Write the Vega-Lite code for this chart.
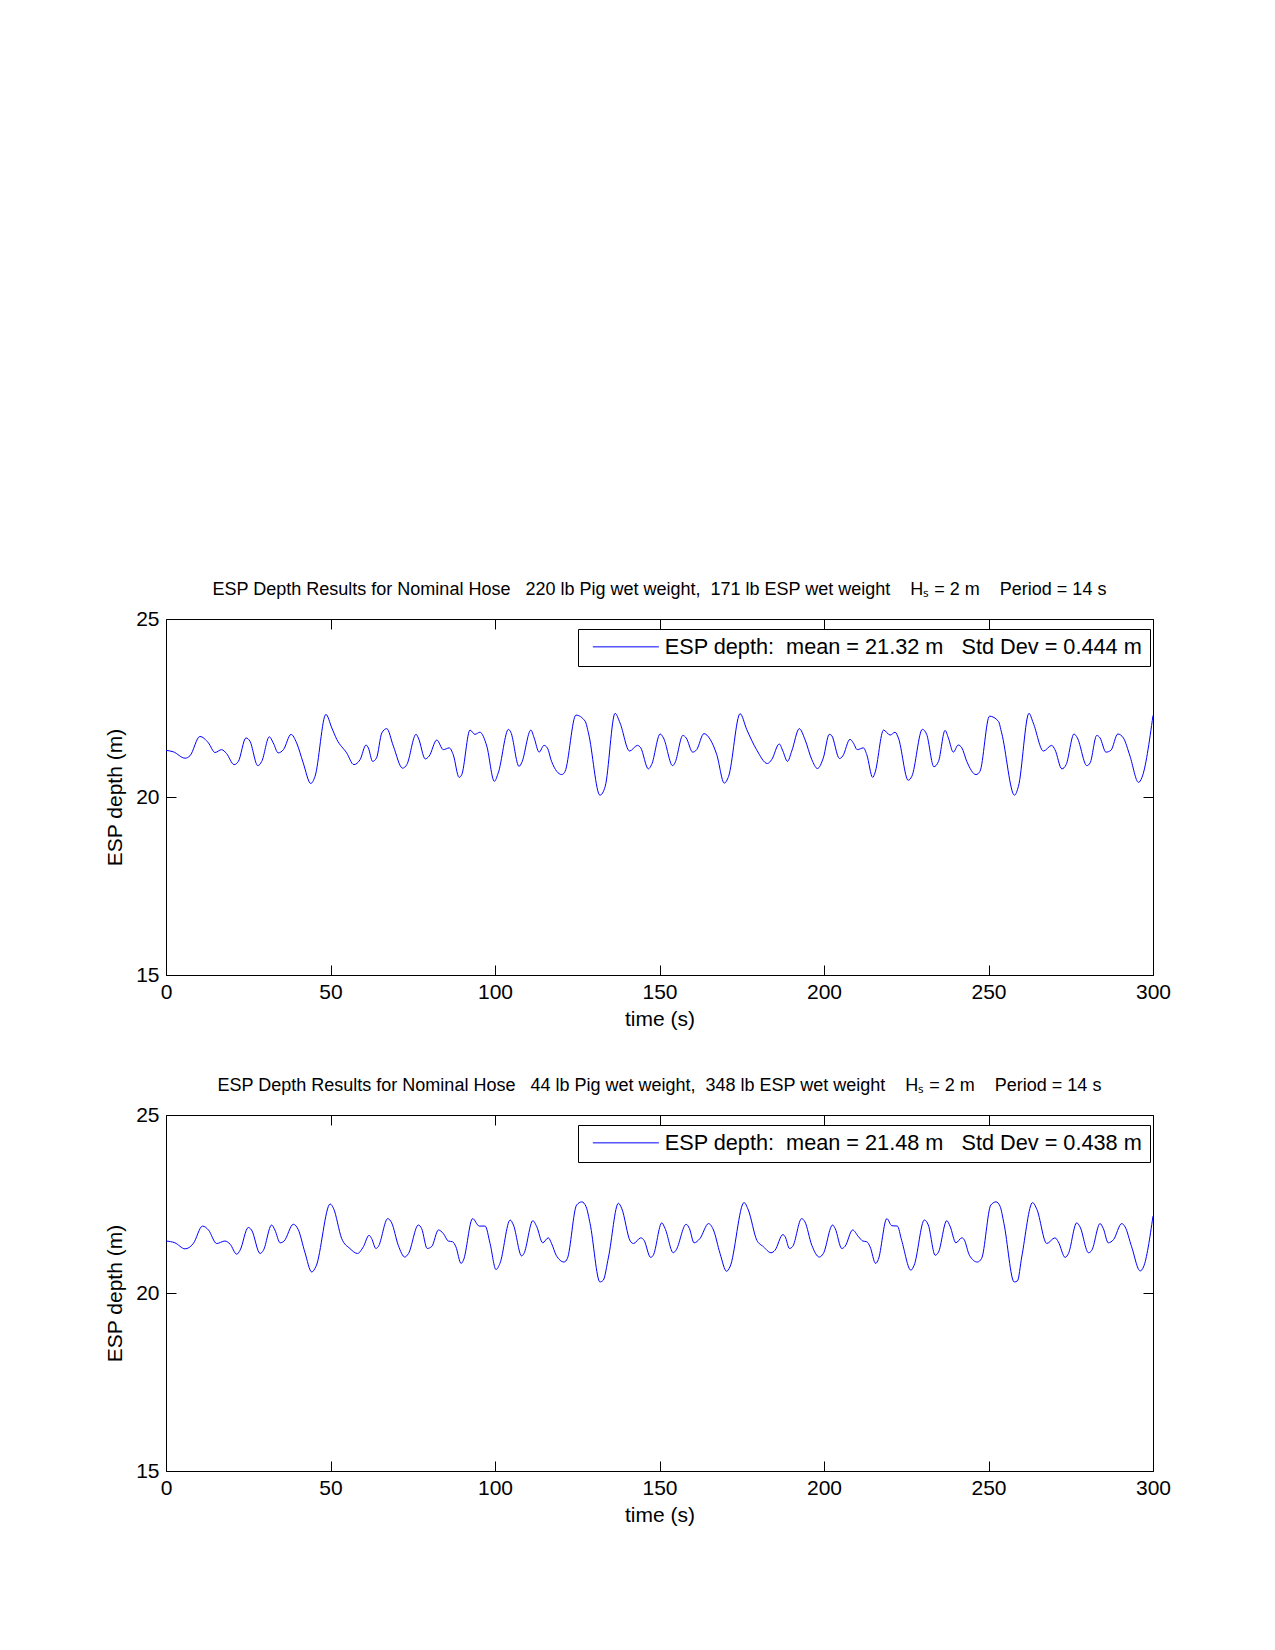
{
  "$schema": "https://vega.github.io/schema/vega-lite/v6.json",
  "background": "white",
  "padding": {"left": 104, "top": 580, "right": 0, "bottom": 0},
  "datasets": {
    "run1": [
      {"t":0,"depth":21.31},{"t":2.2,"depth":21.27},{"t":5.8,"depth":21.09},{"t":7.3,"depth":21.16},{"t":10.3,"depth":21.70},{"t":12.9,"depth":21.52},{"t":14.9,"depth":21.25},{"t":16.9,"depth":21.33},{"t":18.4,"depth":21.22},{"t":20.7,"depth":20.91},{"t":22.0,"depth":21.00},{"t":24.3,"depth":21.66},{"t":25.5,"depth":21.57},{"t":27.9,"depth":20.88},{"t":29.1,"depth":21.00},{"t":31.4,"depth":21.69},{"t":32.6,"depth":21.52},{"t":34.1,"depth":21.24},{"t":35.7,"depth":21.33},{"t":38.0,"depth":21.76},{"t":39.7,"depth":21.52},{"t":41.7,"depth":20.96},{"t":44.0,"depth":20.38},{"t":45.3,"depth":20.58},{"t":48.6,"depth":22.32},{"t":50.4,"depth":21.94},{"t":51.9,"depth":21.62},{"t":54.9,"depth":21.24},{"t":57.1,"depth":20.91},{"t":59.0,"depth":21.05},{"t":60.8,"depth":21.46},{"t":61.5,"depth":21.38},{"t":62.8,"depth":21.00},{"t":64.0,"depth":21.10},{"t":65.6,"depth":21.80},{"t":67.1,"depth":21.92},{"t":69.1,"depth":21.43},{"t":71.9,"depth":20.81},{"t":73.2,"depth":20.91},{"t":76.0,"depth":21.76},{"t":76.7,"depth":21.66},{"t":78.8,"depth":21.07},{"t":80.0,"depth":21.15},{"t":82.3,"depth":21.60},{"t":84.3,"depth":21.33},{"t":86.1,"depth":21.38},{"t":87.3,"depth":21.19},{"t":89.1,"depth":20.55},{"t":89.9,"depth":20.63},{"t":92.4,"depth":21.88},{"t":93.9,"depth":21.76},{"t":95.4,"depth":21.82},{"t":97.5,"depth":21.43},{"t":99.8,"depth":20.44},{"t":101.0,"depth":20.68},
      {"t":104.1,"depth":21.90},{"t":104.8,"depth":21.82},{"t":107.3,"depth":20.86},{"t":108.1,"depth":20.96},{"t":110.9,"depth":21.88},{"t":111.9,"depth":21.66},{"t":113.4,"depth":21.26},{"t":114.9,"depth":21.45},{"t":115.9,"depth":21.38},{"t":117.2,"depth":21.00},{"t":120.3,"depth":20.63},{"t":121.3,"depth":20.72},{"t":124.6,"depth":22.30},{"t":127.4,"depth":22.13},{"t":128.4,"depth":21.80},{"t":131.9,"depth":20.05},{"t":133.5,"depth":20.30},{"t":136.5,"depth":22.35},{"t":138.0,"depth":22.08},{"t":140.9,"depth":21.29},{"t":143.3,"depth":21.45},{"t":144.3,"depth":21.38},{"t":146.6,"depth":20.79},{"t":147.6,"depth":20.91},{"t":150.2,"depth":21.77},{"t":151.2,"depth":21.66},{"t":154.0,"depth":20.88},{"t":154.7,"depth":20.96},{"t":157.1,"depth":21.73},{"t":158.1,"depth":21.66},{"t":160.1,"depth":21.26},{"t":161.3,"depth":21.33},{"t":163.5,"depth":21.78},{"t":165.4,"depth":21.62},{"t":167.4,"depth":21.19},{"t":169.7,"depth":20.39},{"t":171.0,"depth":20.58},{"t":174.5,"depth":22.34},{"t":176.5,"depth":21.90},{"t":179.5,"depth":21.33},{"t":182.8,"depth":20.94},{"t":184.1,"depth":21.05},{"t":186.4,"depth":21.49},{"t":187.5,"depth":21.29},{"t":188.9,"depth":21.00},{"t":190.2,"depth":21.29},{"t":192.5,"depth":21.92},{"t":194.2,"depth":21.62},{"t":196.3,"depth":21.05},{"t":198.0,"depth":20.80},{"t":199.8,"depth":21.10},
      {"t":201.6,"depth":21.76},{"t":202.3,"depth":21.73},{"t":204.7,"depth":21.08},{"t":205.7,"depth":21.15},{"t":207.9,"depth":21.62},{"t":208.9,"depth":21.52},{"t":210.1,"depth":21.33},{"t":212.0,"depth":21.38},{"t":213.0,"depth":21.19},{"t":214.8,"depth":20.55},{"t":215.5,"depth":20.68},{"t":218.1,"depth":21.88},{"t":220.1,"depth":21.74},{"t":221.6,"depth":21.82},{"t":222.6,"depth":21.66},{"t":225.6,"depth":20.47},{"t":226.7,"depth":20.58},{"t":229.9,"depth":21.90},{"t":231.2,"depth":21.76},{"t":233.4,"depth":20.85},{"t":234.8,"depth":21.00},{"t":236.8,"depth":21.87},{"t":237.8,"depth":21.66},{"t":239.3,"depth":21.26},{"t":240.8,"depth":21.46},{"t":241.9,"depth":21.38},{"t":243.4,"depth":21.00},{"t":246.2,"depth":20.63},{"t":247.4,"depth":20.72},{"t":250.3,"depth":22.27},{"t":253.0,"depth":22.13},{"t":254.0,"depth":21.80},{"t":257.9,"depth":20.05},{"t":259.1,"depth":20.30},{"t":262.3,"depth":22.35},{"t":263.6,"depth":22.08},{"t":266.7,"depth":21.29},{"t":269.2,"depth":21.45},{"t":270.2,"depth":21.33},{"t":272.3,"depth":20.79},{"t":273.6,"depth":20.91},{"t":276.0,"depth":21.77},{"t":277.0,"depth":21.66},{"t":279.9,"depth":20.88},{"t":280.9,"depth":20.96},{"t":282.9,"depth":21.73},{"t":283.9,"depth":21.66},{"t":285.7,"depth":21.26},{"t":287.2,"depth":21.31},{"t":289.3,"depth":21.77},{"t":291.0,"depth":21.66},{"t":293.0,"depth":21.15},{"t":295.6,"depth":20.41},{"t":296.6,"depth":20.54},{"t":300.0,"depth":22.29}
    ],
    "run2": [
      {"t":0,"depth":21.46},{"t":2.7,"depth":21.41},{"t":5.8,"depth":21.24},{"t":8.3,"depth":21.39},{"t":11.1,"depth":21.88},{"t":12.9,"depth":21.77},{"t":15.4,"depth":21.39},{"t":17.9,"depth":21.46},{"t":19.5,"depth":21.37},{"t":21.5,"depth":21.09},{"t":22.5,"depth":21.20},{"t":25.0,"depth":21.84},{"t":26.0,"depth":21.77},{"t":28.6,"depth":21.11},{"t":29.6,"depth":21.20},{"t":32.1,"depth":21.91},{"t":33.1,"depth":21.77},{"t":34.7,"depth":21.41},{"t":35.9,"depth":21.46},{"t":38.7,"depth":21.93},{"t":40.2,"depth":21.78},{"t":42.2,"depth":21.15},{"t":44.3,"depth":20.59},{"t":45.6,"depth":20.75},{"t":49.9,"depth":22.50},{"t":50.9,"depth":22.38},{"t":53.4,"depth":21.53},{"t":55.9,"depth":21.25},{"t":58.2,"depth":21.11},{"t":60.0,"depth":21.30},{"t":61.7,"depth":21.62},{"t":62.5,"depth":21.53},{"t":63.8,"depth":21.25},{"t":64.5,"depth":21.30},{"t":67.4,"depth":22.09},{"t":68.6,"depth":21.97},{"t":70.6,"depth":21.34},{"t":72.6,"depth":21.01},{"t":73.7,"depth":21.11},{"t":76.7,"depth":21.91},{"t":77.7,"depth":21.81},{"t":79.4,"depth":21.25},{"t":80.8,"depth":21.31},{"t":82.8,"depth":21.77},{"t":84.3,"depth":21.67},{"t":85.8,"depth":21.46},{"t":87.1,"depth":21.44},{"t":88.1,"depth":21.30},{"t":89.7,"depth":20.83},{"t":90.4,"depth":20.92},{"t":93.2,"depth":22.09},{"t":95.2,"depth":21.88},{"t":97.0,"depth":21.88},{"t":98.5,"depth":21.39},{"t":100.3,"depth":20.66},
      {"t":101.5,"depth":20.83},{"t":104.6,"depth":22.05},{"t":105.6,"depth":21.91},{"t":108.1,"depth":21.04},{"t":108.8,"depth":21.11},{"t":111.5,"depth":22.03},{"t":112.7,"depth":21.86},{"t":114.5,"depth":21.41},{"t":116.2,"depth":21.55},{"t":117.2,"depth":21.39},{"t":118.6,"depth":21.06},{"t":121.0,"depth":20.87},{"t":122.0,"depth":20.97},{"t":124.8,"depth":22.47},{"t":126.4,"depth":22.56},{"t":127.7,"depth":22.42},{"t":128.9,"depth":21.95},{"t":131.9,"depth":20.31},{"t":132.9,"depth":20.36},{"t":134.5,"depth":21.01},{"t":137.5,"depth":22.52},{"t":138.5,"depth":22.38},{"t":141.1,"depth":21.46},{"t":142.1,"depth":21.39},{"t":144.3,"depth":21.55},{"t":145.3,"depth":21.48},{"t":147.3,"depth":21.00},{"t":148.1,"depth":21.06},{"t":150.7,"depth":21.97},{"t":151.7,"depth":21.81},{"t":154.2,"depth":21.13},{"t":155.0,"depth":21.20},{"t":158.1,"depth":21.93},{"t":159.1,"depth":21.81},{"t":160.5,"depth":21.41},{"t":162.3,"depth":21.53},{"t":164.9,"depth":21.95},{"t":166.4,"depth":21.77},{"t":168.4,"depth":21.11},{"t":170.4,"depth":20.61},{"t":171.4,"depth":20.73},{"t":175.7,"depth":22.54},{"t":177.0,"depth":22.33},{"t":179.6,"depth":21.48},{"t":181.6,"depth":21.30},{"t":183.9,"depth":21.13},{"t":185.1,"depth":21.20},{"t":187.5,"depth":21.64},{"t":188.2,"depth":21.58},{"t":189.5,"depth":21.25},{"t":190.5,"depth":21.31},{"t":193.2,"depth":22.09},{"t":194.2,"depth":22.00},{"t":196.3,"depth":21.34},{"t":198.6,"depth":21.01},
      {"t":199.8,"depth":21.11},{"t":202.6,"depth":21.91},{"t":203.4,"depth":21.81},{"t":205.4,"depth":21.25},{"t":206.4,"depth":21.31},{"t":208.7,"depth":21.77},{"t":210.5,"depth":21.58},{"t":211.8,"depth":21.46},{"t":213.0,"depth":21.44},{"t":214.0,"depth":21.30},{"t":215.7,"depth":20.83},{"t":216.5,"depth":20.94},{"t":219.1,"depth":22.09},{"t":220.6,"depth":21.89},{"t":222.3,"depth":21.88},{"t":223.6,"depth":21.48},{"t":226.4,"depth":20.64},{"t":227.4,"depth":20.78},{"t":230.5,"depth":22.05},{"t":231.7,"depth":21.91},{"t":233.8,"depth":21.06},{"t":234.8,"depth":21.15},{"t":237.3,"depth":22.03},{"t":238.3,"depth":21.88},{"t":240.1,"depth":21.41},{"t":241.9,"depth":21.55},{"t":242.6,"depth":21.50},{"t":244.2,"depth":21.06},{"t":246.6,"depth":20.87},{"t":247.9,"depth":20.97},{"t":250.7,"depth":22.47},{"t":252.3,"depth":22.56},{"t":253.5,"depth":22.44},{"t":254.7,"depth":21.95},{"t":257.8,"depth":20.31},{"t":258.8,"depth":20.34},{"t":260.1,"depth":21.01},{"t":263.4,"depth":22.54},{"t":264.7,"depth":22.35},{"t":267.7,"depth":21.39},{"t":270.2,"depth":21.55},{"t":271.2,"depth":21.44},{"t":273.3,"depth":21.00},{"t":274.3,"depth":21.11},{"t":276.8,"depth":21.97},{"t":277.8,"depth":21.86},{"t":280.4,"depth":21.13},{"t":281.4,"depth":21.20},{"t":283.9,"depth":21.95},{"t":284.9,"depth":21.81},{"t":286.4,"depth":21.41},{"t":288.0,"depth":21.50},{"t":290.5,"depth":21.95},{"t":291.5,"depth":21.86},{"t":293.5,"depth":21.30},{"t":296.1,"depth":20.62},{"t":297.1,"depth":20.73},{"t":300.0,"depth":22.16}
    ]
  },
  "config": {
    "font": "Liberation Sans",
    "view": {"stroke": "black", "strokeWidth": 1},
    "axis": {
      "grid": false, "domain": false, "tickColor": "black", "tickSize": -10, "tickWidth": 1,
      "labelColor": "black", "labelFontSize": 21, "labelFont": "Liberation Sans", "labelFlush": false,
      "titleColor": "black", "titleFontSize": 21, "titleFontWeight": "normal", "titleFont": "Liberation Sans"
    },
    "title": {"fontSize": 18, "fontWeight": "normal", "color": "black", "font": "Liberation Sans", "anchor": "middle", "offset": 9},
    "legend": {"labelFontSize": 21.7, "labelFont": "Liberation Sans", "labelColor": "black", "labelLimit": 0}
  },
  "spacing": 46,
  "vconcat": [
    {
      "title": "ESP Depth Results for Nominal Hose \u00a0 220 lb Pig wet weight,\u00a0 171 lb ESP wet weight \u00a0\u00a0 Hₛ = 2 m \u00a0\u00a0 Period = 14 s",
      "width": 987, "height": 356,
      "data": {"name": "run1"},
      "layer": [
        {
          "mark": {"type": "line", "strokeWidth": 1, "interpolate": "monotone"},
          "encoding": {
            "x": {"field": "t", "type": "quantitative", "scale": {"domain": [0, 300], "nice": false, "zero": false},
                  "axis": {"orient": "bottom", "values": [0, 50, 100, 150, 200, 250, 300], "title": "time (s)", "labelPadding": 16, "titlePadding": 6}},
            "y": {"field": "depth", "type": "quantitative", "scale": {"domain": [15, 25], "nice": false, "zero": false},
                  "axis": {"orient": "left", "values": [15, 20, 25], "title": "ESP depth (m)", "labelPadding": 17, "titlePadding": 10}},
            "color": {"datum": "ESP depth:\u00a0 mean = 21.32 m \u00a0 Std Dev = 0.444 m", "type": "nominal",
                      "scale": {"range": ["#0000ff"]},
                      "legend": {"title": null, "orient": "none", "legendX": 412, "legendY": 10, "symbolType": "M-1,0H5.6", "symbolSize": 400, "symbolStrokeWidth": 1, "symbolOffset": 7, "labelOffset": 51, "padding": 7, "strokeColor": "black", "fillColor": "white"}}
          }
        },
        {
          "mark": {"type": "line", "opacity": 0},
          "encoding": {
            "x": {"field": "t", "type": "quantitative", "scale": {"domain": [0, 300], "nice": false, "zero": false},
                  "axis": {"orient": "top", "values": [0, 50, 100, 150, 200, 250, 300], "labels": false, "title": null}},
            "y": {"field": "depth", "type": "quantitative", "scale": {"domain": [15, 25], "nice": false, "zero": false},
                  "axis": {"orient": "right", "values": [15, 20, 25], "labels": false, "title": null}}
          }
        }
      ],
      "resolve": {"axis": {"x": "independent", "y": "independent"}}
    },
    {
      "title": "ESP Depth Results for Nominal Hose \u00a0 44 lb Pig wet weight,\u00a0 348 lb ESP wet weight \u00a0\u00a0 Hₛ = 2 m \u00a0\u00a0 Period = 14 s",
      "width": 987, "height": 356,
      "data": {"name": "run2"},
      "layer": [
        {
          "mark": {"type": "line", "strokeWidth": 1, "interpolate": "monotone"},
          "encoding": {
            "x": {"field": "t", "type": "quantitative", "scale": {"domain": [0, 300], "nice": false, "zero": false},
                  "axis": {"orient": "bottom", "values": [0, 50, 100, 150, 200, 250, 300], "title": "time (s)", "labelPadding": 16, "titlePadding": 6}},
            "y": {"field": "depth", "type": "quantitative", "scale": {"domain": [15, 25], "nice": false, "zero": false},
                  "axis": {"orient": "left", "values": [15, 20, 25], "title": "ESP depth (m)", "labelPadding": 17, "titlePadding": 10}},
            "color": {"datum": "ESP depth:\u00a0 mean = 21.48 m \u00a0 Std Dev = 0.438 m", "type": "nominal",
                      "scale": {"range": ["#0000ff"]},
                      "legend": {"title": null, "orient": "none", "legendX": 412, "legendY": 10, "symbolType": "M-1,0H5.6", "symbolSize": 400, "symbolStrokeWidth": 1, "symbolOffset": 7, "labelOffset": 51, "padding": 7, "strokeColor": "black", "fillColor": "white"}}
          }
        },
        {
          "mark": {"type": "line", "opacity": 0},
          "encoding": {
            "x": {"field": "t", "type": "quantitative", "scale": {"domain": [0, 300], "nice": false, "zero": false},
                  "axis": {"orient": "top", "values": [0, 50, 100, 150, 200, 250, 300], "labels": false, "title": null}},
            "y": {"field": "depth", "type": "quantitative", "scale": {"domain": [15, 25], "nice": false, "zero": false},
                  "axis": {"orient": "right", "values": [15, 20, 25], "labels": false, "title": null}}
          }
        }
      ],
      "resolve": {"axis": {"x": "independent", "y": "independent"}}
    }
  ],
  "resolve": {"scale": {"color": "independent"}, "legend": {"color": "independent"}}
}
